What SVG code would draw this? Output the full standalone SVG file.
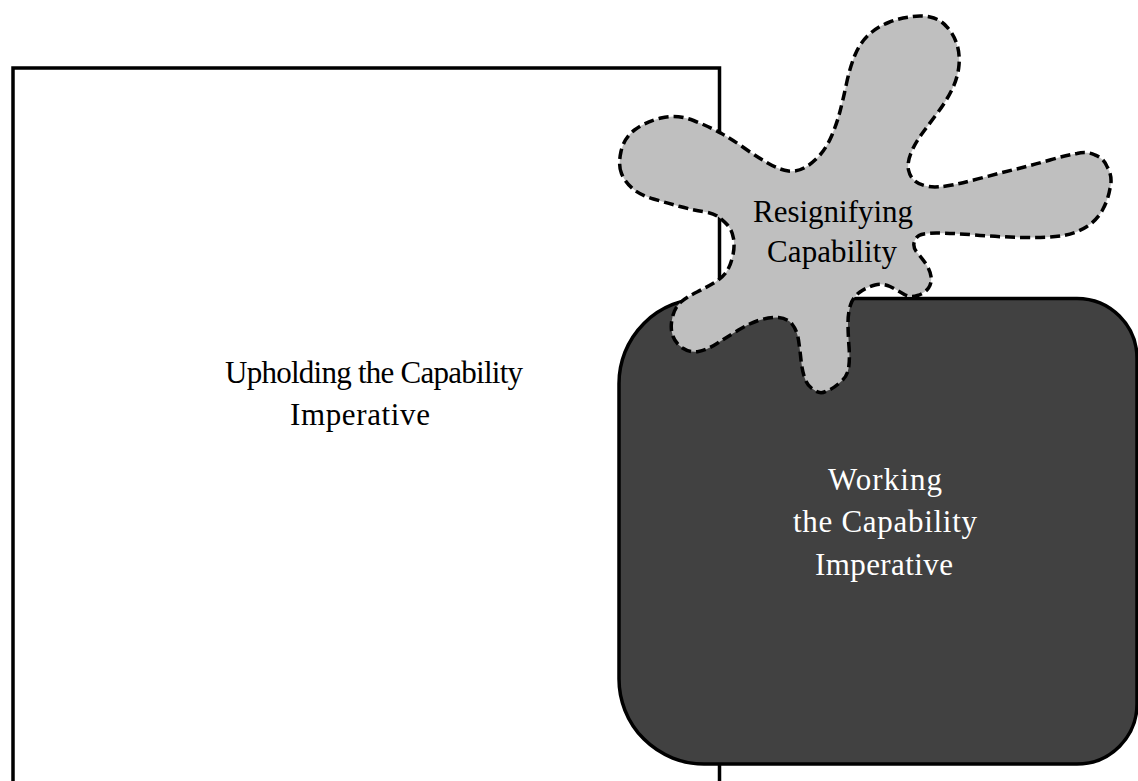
<svg xmlns="http://www.w3.org/2000/svg" width="1138" height="781" viewBox="0 0 1138 781">
  <style>
    .label { font-family: "Liberation Serif", "Times New Roman", serif; font-size: 31px; text-anchor: middle; }
    .dark-label { fill: #000000; }
    .light-label { fill: #ffffff; }
    .frame { fill: #ffffff; stroke: #000000; stroke-width: 3.5; }
    .block { fill: #414141; stroke: #000000; stroke-width: 3.5; }
    .splat { fill: #bfbfbf; stroke: #000000; stroke-width: 3.5; stroke-dasharray: 10 5; stroke-linejoin: round; }
  </style>

  <rect x="0" y="0" width="1138" height="781" fill="#ffffff"/>

  <!-- Open rectangle running off the bottom edge -->
  <g id="upholding">
    <rect class="frame" x="13" y="68" width="706.5" height="760"/>
    <text class="label dark-label" x="374" y="383" font-size="29.5" textLength="298">Upholding the Capability</text>
    <text class="label dark-label" x="360" y="425" textLength="140">Imperative</text>
  </g>

  <!-- Dark rounded block -->
  <g id="working">
    <path class="block" d="M704,298.5 H1077 A60,60 0 0 1 1137,358.5 V704 A60,60 0 0 1 1077,764 H704 A85,85 0 0 1 619,679 V383.5 A85,85 0 0 1 704,298.5 Z"/>
    <text class="label light-label" x="885" y="490" textLength="114">Working</text>
    <text class="label light-label" x="885" y="532" textLength="184">the Capability</text>
    <text class="label light-label" x="884" y="575" textLength="138">Imperative</text>
  </g>

  <!-- Splash shape with dashed outline -->
  <g id="resignifying">
    <path class="splat" d="M621.5,173.5
      Q618,165 621,151.5 Q624,138 634.5,130 Q645,122 661,118 Q677,114 693.5,120.5
      Q710,127 721.5,133.5 Q733,140 745,148.5 Q757,157 768.5,163.5 Q780,170 788.5,171
      Q797,172 805,167.5 Q813,163 820,155 Q827,147 832,135 Q837,123 840,111.5
      Q843,100 846.5,83.5 Q850,67 855,55 Q860,43 868.5,35 Q877,27 888.5,22.5
      Q900,18 910,17 Q920,15 930,17 Q940,19 946.5,26.5 Q953,33 956.5,43
      Q960,53 959,65 Q958,77 952.5,88.5 Q947,100 938.5,111.5 Q930,123 922.5,133
      Q915,143 911,153 Q907,163 908.5,170 Q910,177 915,181 Q920,185 928.5,186.5
      Q937,188 952,185 Q967,182 983.5,177.5 Q1000,173 1016.5,169 Q1033,165 1050,160
      Q1067,155 1077,153.5 Q1087,151 1095,155 Q1104,158 1107.5,167.5 Q1113,177 1110,188.5
      Q1108,200 1102.5,210 Q1097,220 1087,226.5 Q1077,233 1063.5,235.5 Q1050,238 1025,237.5
      Q1000,237 975,235 Q950,233 936.5,233 Q923,233 919,235.5 Q915,238 914,243
      Q913,248 917.5,253 Q922,258 926,264 Q930,270 931,276.5 Q932,283 928.5,288
      Q925,293 917.5,295.5 Q910,298 903.5,294 Q897,290 890,286.5 Q883,283 875,285
      Q867,287 860,292 Q853,297 850.5,305 Q848,313 848,323 Q848,333 849,346.5
      Q850,360 848.5,368.5 Q847,377 840,382.5 Q833,389 826.5,391 Q820,395 813.5,389.5
      Q807,386 804.5,377.5 Q802,370 801,360 Q800,350 798.5,340 Q797,330 792,324
      Q787,318 778.5,317.5 Q770,317 760,320 Q750,323 738.5,330 Q727,337 717,343.5
      Q707,350 698.5,351.5 Q690,353 682.5,348 Q675,343 672.5,335 Q670,327 672.5,317
      Q675,307 681,302 Q687,297 697,292 Q707,287 714.5,282.5 Q722,278 726,272.5
      Q730,267 732.5,257 Q735,247 733.5,238.5 Q732,230 727.5,225 Q723,220 718,216.5
      Q713,213 703,211.5 Q693,210 680,206.5 Q667,203 653.5,199 Q640,195 632.5,188.5
      Q625,182 621.5,173.5 Z"/>
    <text class="label dark-label" x="833" y="222" textLength="160">Resignifying</text>
    <text class="label dark-label" x="832" y="262" textLength="130">Capability</text>
  </g>
</svg>
